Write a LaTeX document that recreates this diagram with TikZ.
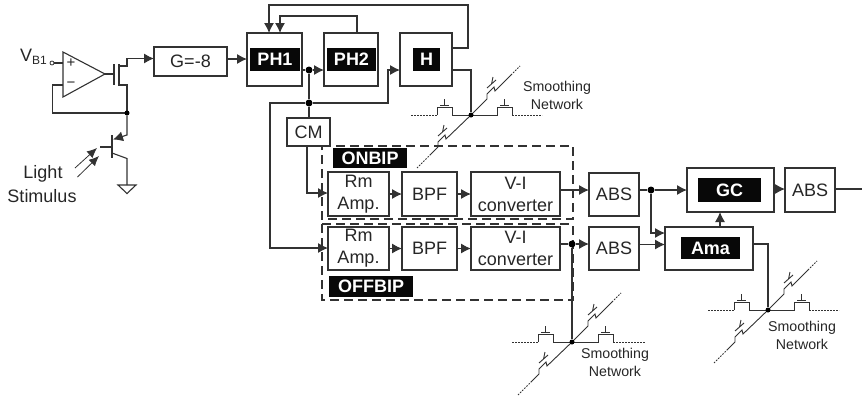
\documentclass[tikz,border=0pt]{standalone}
\usepackage{fontspec}
\setmainfont{Liberation Sans}
\usepackage{xcolor}
\usetikzlibrary{arrows.meta, positioning, calc}
\definecolor{wiregray}{RGB}{50,50,50}
\definecolor{tagblack}{RGB}{8,8,8}
\tikzset{
  wire/.style={draw=wiregray, line width=1.1pt},
  flow/.style={wire, -{Latex[length=10pt,width=10pt]}},
  thinflow/.style={draw=wiregray, line width=0.8pt, -{Latex[length=10pt,width=9pt]}},
  dotted wire/.style={draw=wiregray, line width=0.9pt, dash pattern=on 1.6pt off 1.4pt},
  region/.style={draw=wiregray, line width=1.1pt, dash pattern=on 9pt off 5pt},
  blk/.style={wire, fill=white, inner sep=0pt, outer sep=0pt, align=center, text=black!85},
  tag/.style={fill=tagblack, text=white, inner sep=0pt, outer sep=0pt, font=\fontsize{18}{20}\selectfont\bfseries},
  dotnode/.style={circle, fill=black, inner sep=0pt, minimum size=#1},
  dotnode/.default=7pt,
  lbl/.style={text=black!85, align=center, inner sep=0pt}
}
% one network: two horizontal and two diagonal switches round a centre dot
\newcommand{\smoothnet}[4]{%
  \begin{scope}[shift={(#2,#3)}]
    \draw[wire, line width=0.9pt] (-34,0) -- (-34,-8) -- (-19,-8) -- (-19,0) -- (26,0) -- (26,-8) -- (41,-8) -- (41,0);
    \draw[wire, line width=0.9pt] (-31,-10) -- (-22,-10) (-26.5,-10) -- (-26.5,-16);
    \draw[wire, line width=0.9pt] (29,-10) -- (38,-10) (33.5,-10) -- (33.5,-16);
    \draw[dotted wire] (-60,0) -- (-34,0) (41,0) -- (#4,0);
    % diagonal pair
    \draw[wire, line width=0.9pt] (-41,40) -- (-33,32) -- (-33,27) -- (-26,20) -- (-25,24) -- (0,0)
       -- (16,-16) -- (16,-21) -- (23,-28) -- (24,-24) -- (40,-40);
    \draw[dotted wire] (-54,53) -- (-41,40) (40,-40) -- (49,-49);
    \draw[wire, line width=0.9pt] (16,-27) -- (25,-35) (20.5,-31) -- (22,-38);
    \draw[wire, line width=0.9pt] (-33,21) -- (-24,13) (-28.5,17) -- (-27,10);
    \node[dotnode=5pt] (#1) at (0,0) {};
  \end{scope}}
\begin{document}
\begin{tikzpicture}[x=1pt, y=-1pt, >=Latex, font=\fontsize{18}{22}\selectfont]
  \useasboundingbox (0,0) rectangle (862,399);
  % INPUT STAGE
  \node[lbl, anchor=east] (vb) at (47,57) {V{\fontsize{12}{12}\selectfont\raisebox{-3pt}{B1}}};
  \node[circle, draw=wiregray, line width=0.8pt, fill=white, inner sep=0pt, minimum size=4pt] (vbpin) at (52,63) {};
  \draw[wire, fill=white] (63,52) -- (105,74) -- (63,97) -- cycle;
  \node[lbl, font=\fontsize{15}{15}\selectfont] (plus) at (71,63) {+};
  \node[lbl, font=\fontsize{15}{15}\selectfont] (minus) at (71,85) {−};
  \draw[wire] (vbpin) -- (63,63);
  % buffer transistor
  \draw[wire] (105,74) -- (114,74);
  \draw[wire] (114,64) -- (114,85);
  \draw[wire] (119,64) -- (119,86);
  \coordinate (fbdot) at (127,113);
  \draw[wire] (119,85) -- (127,85) -- (fbdot);
  \draw[wire] (63,85) -- (52.5,85) -- (52.5,113) -- (fbdot);
  \node[dotnode=5pt] (fb) at (fbdot) {};
  % photo transistor
  \draw[wire] (100,147) -- (112,147);
  \draw[wire] (112,135) -- (112,158);
  \draw[flow] (fb) -- (127,135) -- (113,139.5);
  \draw[wire] (112,153) -- (127,158.5) -- (127,185);
  \draw[wire] (118,185) -- (136,185) -- (127,193.5) -- cycle;
  \draw[thinflow] (75,168) -- (97,148);
  \draw[thinflow] (77.5,177) -- (99,156);
  \node[lbl] (light) at (43,174) {Light};
  \node[lbl] (stim) at (42,196) {Stimulus};
  % BIPOLAR REGIONS
  \draw[region] (322,146) -- (573,146) -- (573,219) -- (322,219) -- cycle;
  \draw[region] (322,224) -- (573,224) (322,224) -- (322,300) -- (573,300) -- (573,224);
  % TOP ROW
  \node[blk, minimum width=73, minimum height=29] (gain) at (190.5,61.5) {G=-8};
  \node[blk, minimum width=55, minimum height=53] (ph1) at (274.5,59.5) {};
  \node[blk, minimum width=54, minimum height=53] (ph2) at (351,59.5) {};
  \node[blk, minimum width=52, minimum height=53] (hblk) at (426,59.5) {};
  \node[tag, minimum width=50, minimum height=23] (ph1tag) at (275,59.5) {PH1};
  \node[tag, minimum width=49, minimum height=23] (ph2tag) at (351.5,59.5) {PH2};
  \node[tag, minimum width=27, minimum height=23] (htag) at (426.5,59.5) {H};
  \node[blk, minimum width=43, minimum height=28] (cm) at (308.5,132) {CM};
  \draw[flow] (119,66) -- (127,66) -- (127,58.5) -- (gain.west |- 0,58.5);
  \draw[flow] (gain.east |- 0,59) -- (ph1.west |- 0,59);
  \coordinate (ph1out) at (ph1.east |- 0,70);
  \node[dotnode] (jph) at (309,70) {};
  \node[dotnode] (jcm) at (309,103) {};
  \draw[wire] (ph1out) -- (jph);
  \draw[flow] (jph) -- (ph2.west |- jph);
  \draw[wire] (jph) -- (jcm);
  \draw[wire] (jcm) -- (cm.north -| jcm);
  \draw[flow] (jcm) -- (388,103) -- (388,70) -- (hblk.west |- 0,70);
  % feedback to PH1
  \draw[flow] (hblk.east |- 0,48) -- (468,48) -- (468,5) -- (269,5) -- (ph1.north -| 269,0);
  \draw[flow] (ph2.north -| 357,0) -- (357,16) -- (280,16) -- (ph1.north -| 280,0);
  % BIPOLAR PATHS
  \node[tag, minimum width=74, minimum height=20] (ontag) at (370,158) {ONBIP};
  \node[tag, minimum width=84, minimum height=21] (offtag) at (371,286.5) {OFFBIP};
  \node[blk, minimum width=61, minimum height=44] (rmon) at (358.5,194) {Rm\\Amp.};
  \node[blk, minimum width=55, minimum height=44] (bpfon) at (429.5,194) {BPF};
  \node[blk, minimum width=89, minimum height=44] (vion) at (515.5,194) {V-I\\converter};
  \node[blk, minimum width=61, minimum height=43] (rmoff) at (358.5,248.5) {Rm\\Amp.};
  \node[blk, minimum width=55, minimum height=43] (bpfoff) at (429.5,248.5) {BPF};
  \node[blk, minimum width=89, minimum height=43] (vioff) at (515.5,248.5) {V-I\\converter};
  \draw[flow] (cm.south -| 307,0) -- (307,193) -- (rmon.west |- 0,193);
  \draw[flow] (jcm) -- (270,103) -- (270,248) -- (rmoff.west |- 0,248);
  \draw[flow] (rmon) -- (bpfon);
  \draw[flow] (bpfon) -- (vion);
  \draw[flow] (rmoff) -- (bpfoff);
  \draw[flow] (bpfoff) -- (vioff);
  % OUTPUT SECTION
  \node[blk, minimum width=50, minimum height=43] (abson) at (614,194.5) {ABS};
  \node[blk, minimum width=50, minimum height=43] (absoff) at (614,248.5) {ABS};
  \node[blk, minimum width=87, minimum height=44] (gcblk) at (730.5,190) {};
  \node[blk, minimum width=88, minimum height=43] (ama) at (709,248.5) {};
  \node[blk, minimum width=50, minimum height=44] (absout) at (810,190) {ABS};
  \node[tag, minimum width=63, minimum height=24] (gctag) at (729.5,190) {GC};
  \node[tag, minimum width=59, minimum height=22] (amatag) at (710.5,248) {Ama};
  \coordinate (outend) at (862,189);
  \node[dotnode] (jon) at (651,190) {};
  \node[dotnode] (joff) at (572,244) {};
  \draw[flow] (vion.east |- 0,190) -- (abson.west |- 0,190);
  \draw[wire] (abson.east |- 0,190) -- (jon);
  \draw[flow] (jon) -- (gcblk.west |- jon);
  \draw[flow] (jon) -- (651,233) -- (ama.west |- 0,233);
  \draw[flow] (absoff.east |- 0,244.5) -- (ama.west |- 0,244.5);
  \draw[wire] (vioff.east |- 0,244) -- (joff);
  \draw[flow] (joff) -- (absoff.west |- joff);
  \draw[flow] (ama.north -| 720,0) -- (gcblk.south -| 720,0);
  \draw[flow] (gcblk.east |- outend) -- (absout.west |- outend);
  \draw[wire] (absout.east |- outend) -- (outend);
  % SMOOTHING NETWORKS
  \smoothnet{snh}{471}{115}{71}
  \smoothnet{snoff}{572}{342}{73}
  \smoothnet{snama}{768}{310}{71}
  \draw[wire] (hblk.east |- 0,70) -- (471,70) -- (snh);
  \draw[wire] (joff) -- (snoff);
  \draw[wire] (ama.east |- 0,244) -- (768,244) -- (snama);
  \node[lbl, font=\fontsize{14.2}{18}\selectfont] (sntext) at (557,95) {Smoothing\\Network};
  \node[lbl, font=\fontsize{14.2}{18}\selectfont] (snofftext) at (615,362.5) {Smoothing\\Network};
  \node[lbl, font=\fontsize{14.2}{18}\selectfont] (snamatext) at (802,335) {Smoothing\\Network};
\end{tikzpicture}
\end{document}
